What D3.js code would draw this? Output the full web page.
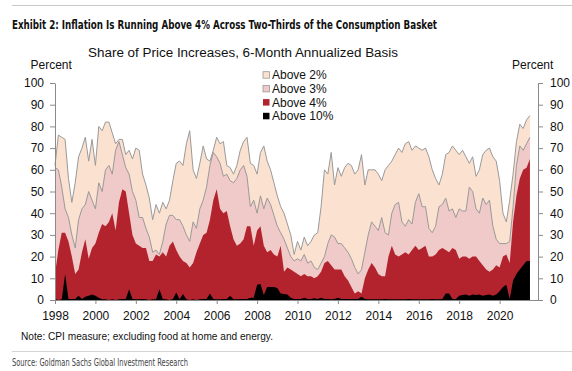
<!DOCTYPE html>
<html>
<head>
<meta charset="utf-8">
<script src="https://cdn.jsdelivr.net/npm/d3@7"></script>
<style>
  body { margin: 0; background: #fff; }
  svg { display: block; font-family: "Liberation Sans", Arial, sans-serif; }
</style>
</head>
<body>
<svg id="chart" width="572" height="371"></svg>
<script>
// bimonthly readings, Jan 1998 .. Jul 2021 (6 per year)
var startYear = 1998;
var stepYears = 1 / 6;

var above2 = [
  62, 76, 75, 74, 56, 45,   // 1998
  54, 66, 70, 75, 64, 74,   // 1999
  62, 80, 78, 82, 82, 77,   // 2000
  72, 74, 74, 67, 69, 65,   // 2001
  70, 69, 58, 53, 47, 37,   // 2002
  44, 40, 45, 42, 46, 55,   // 2003
  63, 64, 62, 72, 78, 60,   // 2004
  56, 63, 71, 65, 64, 69,   // 2005
  75, 72, 73, 62, 61, 58,   // 2006
  62, 69, 73, 75, 63, 62,   // 2007
  58, 68, 71, 64, 60, 54,   // 2008
  48, 43, 40, 35, 30, 21,   // 2009
  27, 23, 29, 25, 27, 30,   // 2010
  31, 43, 60, 58, 68, 53,   // 2011
  61, 57, 61, 63, 62, 58,   // 2012
  60, 67, 53, 60, 60, 60,   // 2013
  58, 55, 60, 62, 64, 67,   // 2014
  70, 68, 72, 73, 69, 71,   // 2015
  70, 69, 70, 66, 60, 56,   // 2016
  53, 58, 67, 68, 71, 69,   // 2017
  67, 69, 66, 63, 66, 57,   // 2018
  60, 67, 69, 70, 66, 64,   // 2019
  55, 40, 36, 46, 58, 73,   // 2020
  81, 79, 83, 85            // 2021
];

var above3 = [
  61, 60, 52, 42, 38, 30,
  24, 37, 42, 44, 50, 46,
  42, 54, 50, 60, 62, 58,
  69, 73, 67, 61, 58, 50,
  46, 38, 38, 33, 29, 22,
  23, 21, 27, 35, 39, 39,
  37, 37, 34, 30, 27, 36,
  33, 42, 46, 52, 62, 68,
  66, 63, 57, 58, 55, 54,
  56, 60, 62, 57, 43, 46,
  40, 48, 42, 47, 44, 39,
  34, 31, 28, 24, 20, 18,
  19, 18, 21, 17, 18, 15,
  14, 17, 20, 26, 30, 29,
  26, 26, 24, 22, 19, 15,
  12, 14, 22, 30, 36, 34,
  32, 38, 31, 30, 40, 44,
  45, 36, 34, 37, 35, 45,
  49, 43, 43, 33, 31, 34,
  43, 44, 47, 41, 42, 38,
  42, 41, 41, 52, 50, 42,
  40, 47, 44, 46, 34, 28,
  26, 26, 26, 27, 43, 62,
  71, 69, 72, 75
];

var above4 = [
  12, 23, 31, 31, 27, 20,
  12, 14, 22, 28, 19, 24,
  26, 31, 35, 34, 36, 40,
  32, 45, 51, 50, 40, 30,
  26, 25, 24, 24, 18, 18,
  21, 20, 22, 20, 25, 27,
  23, 20, 18, 17, 15, 17,
  22, 26, 30, 31, 37, 46,
  51, 42, 40, 41, 34, 28,
  25, 26, 28, 34, 34, 25,
  32, 34, 25, 22, 23, 21,
  20, 25, 13, 15, 14, 13,
  12, 11, 12, 11, 11, 10,
  11, 13, 17, 18, 16, 14,
  14, 14, 11, 9, 6, 3,
  4, 3, 10, 14, 17, 15,
  12, 11, 11, 20, 25, 21,
  20, 21, 22, 21, 23, 25,
  23, 24, 25, 20, 20, 21,
  23, 24, 23, 22, 24, 23,
  19, 20, 20, 19, 20, 20,
  18, 16, 14, 13, 14, 16,
  15, 20, 21, 17, 36, 48,
  56, 60, 61, 65
];

var above10 = [
  0.5, 0, 0.3, 12, 0.5, 0.5,
  0.5, 2, 0.5, 1.5, 2, 2.5,
  2, 1, 0.3, 0.3, 0, 0.3,
  0, 0.3, 0.5, 0.5, 5, 0.5,
  0.3, 0.3, 0.5, 0.3, 0, 0.3,
  0.3, 5, 0.5, 0.3, 0, 0.5,
  3.4, 0.3, 2.8, 0.3, 0, 0.3,
  0, 0.3, 0.5, 0.5, 3, 0.5,
  0.3, 0.3, 0.5, 0.5, 2, 0.3,
  0.3, 0.5, 0.5, 0.5, 1, 1,
  7, 7.4, 2.3, 6, 6, 6,
  5.5, 3, 2.8, 2.5, 1, 0.5,
  0.5, 0.5, 1, 0.5, 0.5, 0.8,
  0.5, 1, 0.5, 0.5, 0.3, 0.5,
  1, 0.5, 0.5, 0.5, 0.5, 0.5,
  0.5, 1.5, 0.5, 0.3, 0.3, 0.3,
  0.3, 0.3, 0.5, 0.3, 0.3, 0.3,
  0.3, 0.3, 0.3, 0.5, 0.3, 0.3,
  0.3, 0.3, 0.3, 0.3, 0.5, 0.3,
  0.3, 0.5, 3, 3, 0.5, 0.5,
  2, 2.3, 2.5, 2, 2.5, 2.3,
  2.5, 2, 2.3, 2.5, 2, 2.5,
  4, 6, 7, 0.5, 9, 12,
  14, 16, 18, 18
];

var seriesNames = ['Above 2%', 'Above 3%', 'Above 4%', 'Above 10%'];
var seriesColors = ['#fbe1cf', '#f0c9c9', '#b3232d', '#000000'];
var yTicks = [0, 10, 20, 30, 40, 50, 60, 70, 80, 90, 100];
var xTicks = [1998, 2000, 2002, 2004, 2006, 2008, 2010, 2012, 2014, 2016, 2018, 2020];

var svg = d3.select('#chart');

var x = d3.scaleLinear().domain([1998, 2021.9]).range([55, 538]);
var y = d3.scaleLinear().domain([0, 100]).range([300, 83]);

var dates = above2.map((d, i) => startYear + i * stepYears);
var allSeries = [above2, above3, above4, above10];

// top and bottom rules
svg.append('line').attr('x1', 12).attr('x2', 572).attr('y1', 5.5).attr('y2', 5.5)
  .style('stroke', '#c8c8c8').style('stroke-width', 1);
svg.append('line').attr('x1', 12).attr('x2', 572).attr('y1', 351.5).attr('y2', 351.5)
  .style('stroke', '#d4d4d4').style('stroke-width', 1);

svg.append('text')
  .attr('x', 12).attr('y', 28.5)
  .attr('textLength', 425).attr('lengthAdjust', 'spacingAndGlyphs')
  .style('font-family', '"Liberation Sans Narrow", "DejaVu Sans Condensed", Arial, sans-serif')
  .style('font-weight', 'bold').style('font-size', '11.5px').style('fill', '#111')
  .text('Exhibit 2: Inflation Is Running Above 4% Across Two-Thirds of the Consumption Basket');

svg.append('text')
  .attr('x', 88).attr('y', 57.3)
  .attr('textLength', 310).attr('lengthAdjust', 'spacingAndGlyphs')
  .style('font-size', '12.5px').style('fill', '#111')
  .text('Share of Price Increases, 6-Month Annualized Basis');

svg.append('text').attr('x', 30.5).attr('y', 68.5)
  .style('font-size', '12px').style('fill', '#111').text('Percent');
svg.append('text').attr('x', 512).attr('y', 68.5)
  .style('font-size', '12px').style('fill', '#111').text('Percent');

// areas, widest first
var g = svg.append('g');
allSeries.forEach(function (vals, k) {
  var rows = vals.map((v, i) => ({ t: dates[i], v: v }));
  var area = d3.area().x(d => x(d.t)).y0(y(0)).y1(d => y(d.v));
  g.append('path').datum(rows)
    .attr('d', area)
    .style('fill', seriesColors[k]);
});

// gray outlines on the two light series
[above2, above3].forEach(function (vals) {
  var rows = vals.map((v, i) => ({ t: dates[i], v: v }));
  var line = d3.line().x(d => x(d.t)).y(d => y(d.v));
  g.append('path').datum(rows)
    .attr('d', line)
    .style('fill', 'none')
    .style('stroke', '#9a9a9a')
    .style('stroke-width', 1);
});

// axes
var axisColor = '#8a8a8a';
var left = svg.append('g').attr('transform', 'translate(55,0)')
  .call(d3.axisLeft(y).tickValues(yTicks).tickSize(5).tickSizeOuter(0).tickPadding(6));
var right = svg.append('g').attr('transform', 'translate(538,0)')
  .call(d3.axisRight(y).tickValues(yTicks).tickSize(5).tickSizeOuter(0).tickPadding(7));
var bottom = svg.append('g').attr('transform', 'translate(0,300)')
  .call(d3.axisBottom(x).tickValues(xTicks).tickFormat(d3.format('d')).tickSize(4).tickSizeOuter(0).tickPadding(7));

[left, right, bottom].forEach(function (a) {
  a.selectAll('path').style('stroke', axisColor);
  a.selectAll('line').style('stroke', axisColor);
  a.selectAll('text').style('font-size', '12px').style('fill', '#111')
    .style('font-family', '"Liberation Sans", Arial, sans-serif');
});

// legend
var legend = svg.append('g');
seriesNames.forEach(function (name, k) {
  var ly = 75 + k * 13.7;
  legend.append('rect')
    .attr('x', 263).attr('y', ly - 3.3).attr('width', 6.5).attr('height', 6.5)
    .style('fill', seriesColors[k])
    .style('stroke', k < 2 ? '#9a9a9a' : 'none')
    .style('stroke-width', 0.8);
  legend.append('text')
    .attr('x', 272).attr('y', ly + 4.2)
    .style('font-size', '12px').style('fill', '#111')
    .text(name);
});

svg.append('text').attr('x', 21).attr('y', 339.5)
  .attr('textLength', 252).attr('lengthAdjust', 'spacingAndGlyphs')
  .style('font-size', '10.5px').style('fill', '#111')
  .text('Note: CPI measure; excluding food at home and energy.');

svg.append('text').attr('x', 12).attr('y', 366)
  .attr('textLength', 176).attr('lengthAdjust', 'spacingAndGlyphs')
  .style('font-family', '"Liberation Sans Narrow", "DejaVu Sans Condensed", Arial, sans-serif')
  .style('font-size', '10px').style('fill', '#444')
  .text('Source: Goldman Sachs Global Investment Research');
</script>
</body>
</html>
